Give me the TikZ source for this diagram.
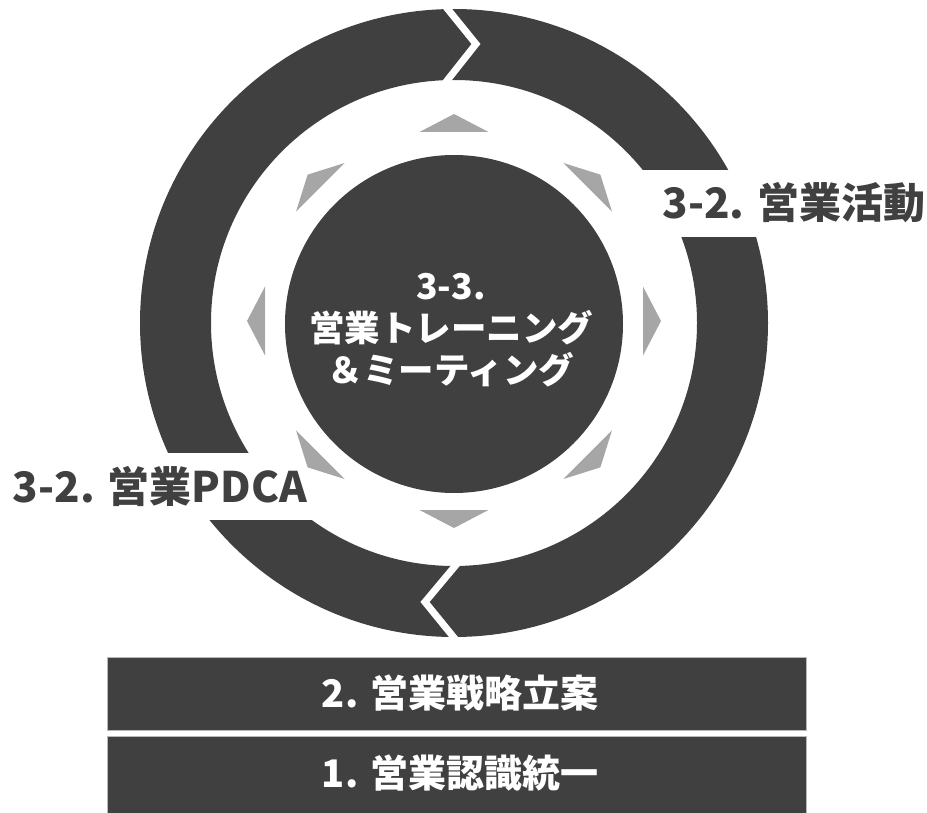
\documentclass[tikz,border=0pt]{standalone}
\usepackage{fontspec}
\setmainfont{Noto Sans CJK JP}
\definecolor{dark}{RGB}{64,64,64}
\definecolor{tri}{RGB}{166,166,166}
\definecolor{edge}{RGB}{185,185,185}
\begin{document}
\begin{tikzpicture}[x=1pt,y=-1pt,
  lbl/.style={text=dark,font=\bfseries\fontsize{42}{50}\selectfont,inner sep=0pt},
  bartext/.style={text=white,font=\bfseries\fontsize{38}{46}\selectfont,inner sep=0pt},
  centertext/.style={text=white,font=\bfseries\fontsize{35.5}{42}\selectfont,align=center,inner sep=0pt},
  notch/.style={draw=white,line width=7pt,line join=miter},
  bar/.style={fill=dark,draw=edge,line width=1pt},
  tria/.style={fill=tri}]
\useasboundingbox (0,0) rectangle (927,813);
% outer ring
\fill[dark,even odd rule] (454,323) circle[radius=314pt] (454,323) circle[radius=243pt];
% notches
\coordinate (n1) at (442,2);
\coordinate (n2) at (476,44);
\coordinate (n3) at (442,87);
\draw[notch] (n1) -- (n2) -- (n3);
\coordinate (m1) at (461,559);
\coordinate (m2) at (425,602);
\coordinate (m3) at (460,645);
\draw[notch] (m1) -- (m2) -- (m3);
% label backgrounds
\fill[white] (640,170) rectangle (927,237);
\fill[white] (0,453) rectangle (318,520);
% center circle
\fill[dark] (454,324) circle[radius=169pt];
% triangles
\begin{scope}[shift={(454,321)}]
\foreach \k in {0,...,7}
  \fill[tria,rotate=-45*\k] (-34.5pt,189pt) -- (0pt,207pt) -- (34.5pt,189pt) -- cycle;
\end{scope}
% labels
\node[lbl] (act) at (794,203) {3-2. 営業活動};
\node[lbl] (pdca) at (160,486) {3-2. 営業PDCA};
\node[centertext] (core) at (451,330) {3-3.\\営業トレーニング\\＆ミーティング};
% bars
\draw[bar] (107,657) rectangle (806,730);
\draw[bar] (107,736) rectangle (806,818);
\node[bartext] (b2) at (460,693) {2. 営業戦略立案};
\node[bartext] (b1) at (460,773) {1. 営業認識統一};
\end{tikzpicture}
\end{document}
